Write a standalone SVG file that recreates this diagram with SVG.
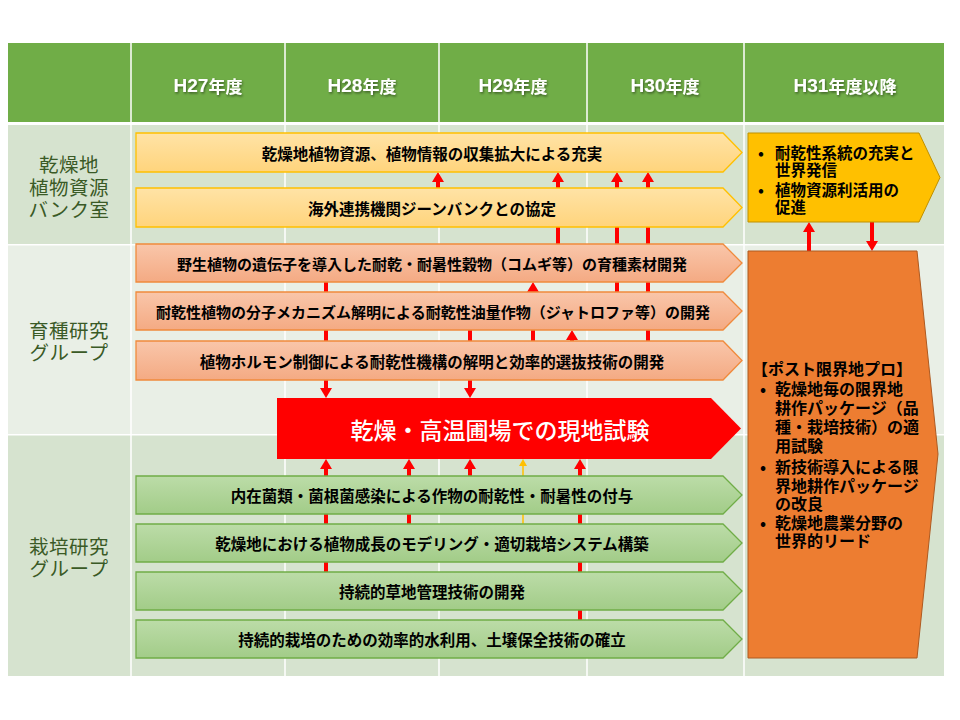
<svg xmlns="http://www.w3.org/2000/svg" width="960" height="720" viewBox="0 0 960 720">
<defs>
<linearGradient id="gy" x1="0" y1="0" x2="0" y2="1"><stop offset="0" stop-color="#FFE3A6"/><stop offset="1" stop-color="#FFD47C"/></linearGradient>
<linearGradient id="gs" x1="0" y1="0" x2="0" y2="1"><stop offset="0" stop-color="#F9C6AA"/><stop offset="1" stop-color="#F4AA83"/></linearGradient>
<linearGradient id="gg" x1="0" y1="0" x2="0" y2="1"><stop offset="0" stop-color="#BCDCA8"/><stop offset="1" stop-color="#A2CC88"/></linearGradient>
<filter id="sh" x="-10%" y="-30%" width="130%" height="160%"><feDropShadow dx="1" dy="1.5" stdDeviation="0.8" flood-color="#000" flood-opacity="0.45"/></filter>
<marker id="ah" markerUnits="userSpaceOnUse" markerWidth="10" markerHeight="12" viewBox="0 0 10 12" refX="0" refY="6" orient="auto"><path d="M0,0 L10,6 L0,12 Z" fill="#FF0000"/></marker>
<marker id="ahy" markerUnits="userSpaceOnUse" markerWidth="7" markerHeight="8" viewBox="0 0 7 8" refX="0" refY="4" orient="auto"><path d="M0,0 L7,4 L0,8 Z" fill="#FFC000"/></marker>
</defs>
<style>
.hd{fill:#FFFFFF;font-family:"Liberation Sans","Noto Sans CJK JP",sans-serif;font-weight:bold;font-size:19px;text-anchor:middle;dominant-baseline:central}
.hd .k{font-family:"Noto Sans CJK JP",sans-serif;font-size:17px}
.lb{fill:#3A5A26;font-family:"Noto Sans CJK JP",sans-serif;font-size:19.5px;text-anchor:middle;dominant-baseline:central;letter-spacing:0.5px}
.bt{fill:#000000;font-family:"Noto Sans CJK JP",sans-serif;font-size:15.5px;font-weight:bold;text-anchor:middle;dominant-baseline:central}
.bt.n{font-size:15px}
.rt{fill:#000000;font-family:"Noto Sans CJK JP",sans-serif;font-size:15.5px;font-weight:bold;dominant-baseline:central}
.rt.o{font-size:16px}
.big{fill:#FFFFFF;font-family:"Noto Sans CJK JP",sans-serif;font-size:23px;font-weight:500;text-anchor:middle;dominant-baseline:central}
.yb{fill:url(#gy);stroke:#FFC000;stroke-width:1.3}
.sb{fill:url(#gs);stroke:#F08A3C;stroke-width:1.3}
.gb{fill:url(#gg);stroke:#70AD47;stroke-width:1.3}
.ar{stroke:#FF0000;stroke-width:4;fill:none;marker-end:url(#ah)}
.ay{stroke:#FFC000;stroke-width:1.5;fill:none;marker-end:url(#ahy)}
.gl{stroke:#FFFFFF;stroke-width:1.5}
</style>
<rect x="0" y="0" width="960" height="720" fill="#FFFFFF"/>
<g id="table">
<rect x="8" y="43" width="936" height="79" fill="#70AD47"/>
<rect x="8" y="125" width="936" height="119" fill="#D6E3CF"/>
<rect x="8" y="245.5" width="936" height="188.5" fill="#E9EFE6"/>
<rect x="8" y="435.5" width="936" height="240.5" fill="#D6E3CF"/>
<line class="gl" x1="131" y1="43" x2="131" y2="676"/>
<line class="gl" x1="285" y1="43" x2="285" y2="676"/>
<line class="gl" x1="439" y1="43" x2="439" y2="676"/>
<line class="gl" x1="587" y1="43" x2="587" y2="676"/>
<line class="gl" x1="744" y1="43" x2="744" y2="676"/>
</g>
<g id="header" filter="url(#sh)">
<text class="hd" x="208" y="85">H27<tspan class="k">年度</tspan></text>
<text class="hd" x="362" y="85">H28<tspan class="k">年度</tspan></text>
<text class="hd" x="513" y="85">H29<tspan class="k">年度</tspan></text>
<text class="hd" x="665" y="85">H30<tspan class="k">年度</tspan></text>
<text class="hd" x="845" y="85">H31<tspan class="k">年度以降</tspan></text>
</g>
<g id="labels">
<text class="lb" x="69" y="163"><tspan x="69" dy="0">乾燥地</tspan><tspan x="69" dy="22.5">植物資源</tspan><tspan x="69" dy="22.5">バンク室</tspan></text>
<text class="lb" x="69" y="329"><tspan x="69" dy="0">育種研究</tspan><tspan x="69" dy="22">グループ</tspan></text>
<text class="lb" x="69" y="545"><tspan x="69" dy="0">栽培研究</tspan><tspan x="69" dy="22">グループ</tspan></text>
</g>
<g id="connectors">
<line class="ar" x1="438" y1="188" x2="438" y2="182"/>
<line class="ar" x1="558" y1="244" x2="558" y2="182"/>
<line class="ar" x1="617" y1="292" x2="617" y2="182"/>
<line class="ar" x1="648" y1="341" x2="648" y2="182"/>
<line class="ar" x1="533" y1="341" x2="533" y2="292"/>
<line class="ar" x1="572" y1="341" x2="572" y2="340"/>
<line class="ar" x1="326" y1="282" x2="326" y2="388"/>
<line class="ar" x1="470" y1="330" x2="470" y2="388"/>
<line class="ar" x1="326" y1="572" x2="326" y2="469"/>
<line class="ar" x1="409" y1="524" x2="409" y2="469"/>
<line class="ar" x1="470" y1="476" x2="470" y2="469"/>
<line class="ay" x1="523" y1="524" x2="523" y2="466"/>
<line class="ar" x1="580" y1="620" x2="580" y2="469"/>
<line class="ar" x1="809" y1="251" x2="809" y2="232"/>
<line class="ar" x1="872" y1="222" x2="872" y2="241"/>
</g>
<g id="bank1"><path class="yb" d="M136,133 H723 L742,152.5 L723,172 H136 Z"/><text class="bt" x="432" y="152.5">乾燥地植物資源、植物情報の収集拡大による充実</text></g>
<g id="bank2"><path class="yb" d="M136,188 H723 L742,207.5 L723,227 H136 Z"/><text class="bt" x="432" y="207.5">海外連携機関ジーンバンクとの協定</text></g>
<g id="breed1"><path class="sb" d="M136,244 H723 L742,263 L723,282 H136 Z"/><text class="bt n" x="432" y="263">野生植物の遺伝子を導入した耐乾・耐暑性穀物（コムギ等）の育種素材開発</text></g>
<g id="breed2"><path class="sb" d="M136,292 H723 L742,311 L723,330 H136 Z"/><text class="bt n" x="433" y="311">耐乾性植物の分子メカニズム解明による耐乾性油量作物（ジャトロファ等）の開発</text></g>
<g id="breed3"><path class="sb" d="M136,341 H723 L742,360.5 L723,380 H136 Z"/><text class="bt" x="432" y="360.5">植物ホルモン制御による耐乾性機構の解明と効率的選抜技術の開発</text></g>
<g id="fieldtest"><path d="M277,398 H711 L741,428.5 L711,459 H277 Z" fill="#FF0000"/><text class="big" x="500" y="428.5">乾燥・高温圃場での現地試験</text></g>
<g id="cult1"><path class="gb" d="M136,476 H723 L742,495 L723,514 H136 Z"/><text class="bt" x="432" y="495">内在菌類・菌根菌感染による作物の耐乾性・耐暑性の付与</text></g>
<g id="cult2"><path class="gb" d="M136,524 H723 L742,543 L723,562 H136 Z"/><text class="bt" x="432" y="543">乾燥地における植物成長のモデリング・適切栽培システム構築</text></g>
<g id="cult3"><path class="gb" d="M136,572 H723 L742,591 L723,610 H136 Z"/><text class="bt" x="432" y="591">持続的草地管理技術の開発</text></g>
<g id="cult4"><path class="gb" d="M136,620 H723 L742,639 L723,658 H136 Z"/><text class="bt" x="432" y="639">持続的栽培のための効率的水利用、土壌保全技術の確立</text></g>
<g id="future1"><path d="M748,133 H919 L940,177.5 L919,222 H748 Z" fill="#FFC000" stroke="#BF9000" stroke-width="1"/>
<text class="rt" x="758" y="152"><tspan x="758" dy="0">•</tspan><tspan x="775" dy="0">耐乾性系統の充実と</tspan><tspan x="775" dy="17">世界発信</tspan><tspan x="758" dy="19.5">•</tspan><tspan x="775" dy="0">植物資源利活用の</tspan><tspan x="775" dy="17.5">促進</tspan></text></g>
<g id="future2"><path d="M748,251 H917 L938,454 L917,658 H748 Z" fill="#ED7D31" stroke="#AE5A21" stroke-width="1"/>
<text class="rt o" x="752" y="368"><tspan x="752" dy="0">【ポスト限界地プロ】</tspan><tspan x="760" dy="20">•</tspan><tspan x="775" dy="0">乾燥地毎の限界地</tspan><tspan x="775" dy="19">耕作パッケージ（品</tspan><tspan x="775" dy="19">種・栽培技術）の適</tspan><tspan x="775" dy="19">用試験</tspan><tspan x="760" dy="21">•</tspan><tspan x="775" dy="0">新技術導入による限</tspan><tspan x="775" dy="19">界地耕作パッケージ</tspan><tspan x="775" dy="18">の改良</tspan><tspan x="760" dy="19">•</tspan><tspan x="775" dy="0">乾燥地農業分野の</tspan><tspan x="775" dy="18">世界的リード</tspan></text></g>
</svg>
